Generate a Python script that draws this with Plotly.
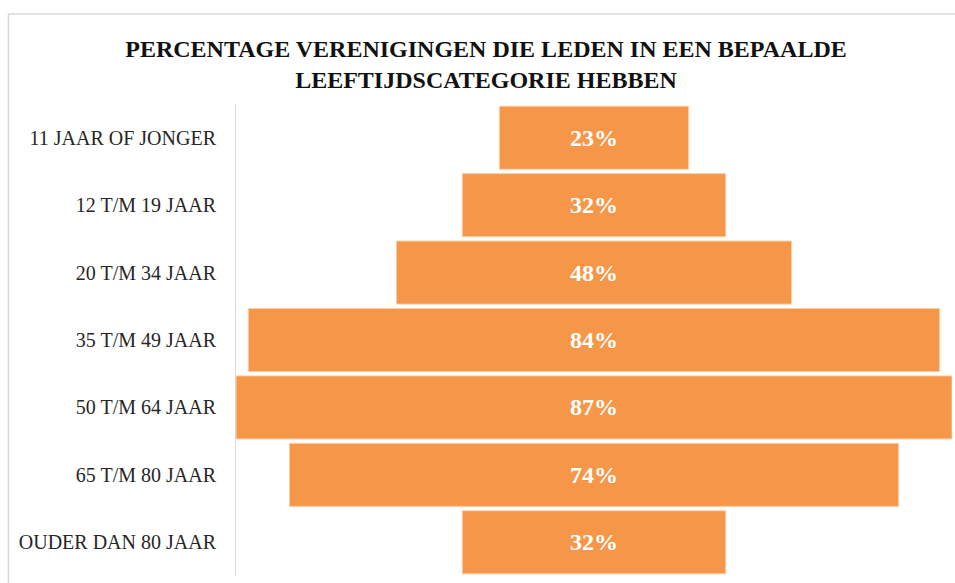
import plotly.graph_objects as go

categories = ["11 JAAR OF JONGER", "12 T/M 19 JAAR", "20 T/M 34 JAAR", "35 T/M 49 JAAR",
              "50 T/M 64 JAAR", "65 T/M 80 JAAR", "OUDER DAN 80 JAAR"]
values = [23, 32, 48, 84, 87, 74, 32]

title_text = "PERCENTAGE VERENIGINGEN DIE LEDEN IN EEN BEPAALDE<br>LEEFTIJDSCATEGORIE HEBBEN"

fig = go.Figure(go.Funnel(
    y=categories,
    x=values,
    orientation="h",
    texttemplate="<b>%{x}%</b>",
    textposition="inside",
    insidetextanchor="middle",
    textfont=dict(family="Liberation Serif", size=24, color="white"),
    marker=dict(color="#F59648", line=dict(color="#FBCFA6", width=1)),
    connector=dict(visible=False),
    hoverinfo="y+x",
))

W, H = 955, 583
L, R, T, B = 236, 3, 104, 7
pw, ph = W - L - R, H - T - B

def px_x(p):
    return (p - L) / pw

def px_y(p):
    return (H - B - p) / ph

fig.update_layout(
    width=W, height=H,
    margin=dict(l=L, r=R, t=T, b=B),
    paper_bgcolor="white",
    plot_bgcolor="white",
    funnelgap=0.065,
    showlegend=False,
    title=dict(
        text="<b>" + title_text + "</b>",
        font=dict(family="Liberation Serif", size=24, color="#111111"),
        x=486 / W, xanchor="center",
        y=1 - 57 / H, yanchor="middle",
    ),
    xaxis=dict(visible=False, range=[-43.5, 43.5], fixedrange=True),
    yaxis=dict(
        showline=True, linecolor="#D9D9D9", linewidth=1,
        ticks="", ticklabelstandoff=15,
        tickfont=dict(family="Liberation Serif", size=20, color="#262626"),
        showgrid=False,
    ),
    shapes=[dict(
        type="rect", xref="paper", yref="paper",
        x0=px_x(8.5), x1=px_x(1000), y0=px_y(650), y1=px_y(14),
        line=dict(color="#D9D9D9", width=1.5), fillcolor="rgba(0,0,0,0)",
        layer="below",
    )],
)

fig.write_html(
    "out.html",
    config={"displayModeBar": False},
    post_script="document.body.style.margin='0';document.body.style.overflow='hidden';",
)
